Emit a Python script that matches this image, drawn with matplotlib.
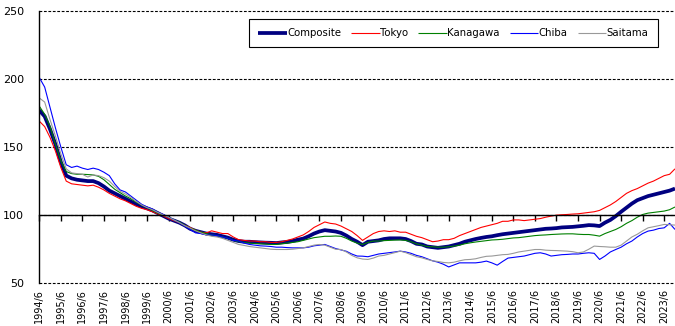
import numpy as np
import matplotlib
matplotlib.use("Agg")
import matplotlib.pyplot as plt

# Quarterly readings from 1994/6 (month index step 3)
composite = [
    177, 172.5, 163, 152,
    139, 129, 127, 126,
    125.5, 125, 125, 123.5,
    121, 118, 116, 114,
    112, 110, 108, 106.5,
    105, 103.5, 101.5, 99.5,
    97.5, 96, 94.5, 92.5,
    90, 88.5, 87.5, 86.5,
    86, 85.5, 84.5, 83.5,
    82, 81, 80.5, 80.5,
    80.2, 80, 79.8, 79.7,
    79.5, 80, 80.3, 81,
    82, 82.8, 84.5, 86.5,
    88, 89, 88.5, 88,
    87, 85, 82.5, 80.5,
    78, 80.5, 81, 81.5,
    82.5, 83, 83, 83,
    82.5, 81, 79, 78.5,
    77, 76.5, 76, 76.5,
    77, 78, 79, 80.5,
    81.5, 82.5, 83.3, 84,
    84.5, 85.3, 86, 86.5,
    87, 87.5, 88, 88.5,
    89, 89.5, 90, 90.2,
    90.5, 91, 91.2, 91.4,
    91.8, 92.2, 92.7, 92.5,
    92, 94.5, 96.5, 99.3,
    102.5, 105.5, 108.5, 111,
    112.5, 114, 115, 116,
    117, 118, 119.5,
]
tokyo = [
    169, 165, 157, 147,
    135, 125, 123, 122.5,
    122, 121.5, 122, 120.5,
    118.5, 116, 114, 112,
    110.5, 108.5, 106.5, 105,
    104, 102.5, 101, 99.5,
    97.5, 96, 94.5, 92.5,
    91, 89, 87.5, 87,
    88.5, 87.5, 86.5, 86.5,
    84, 82, 81.5, 81,
    81, 80.5, 80.5, 80,
    80, 80.5, 81.5, 82.5,
    84, 85.5, 88, 91,
    93, 95, 94, 93.5,
    92, 90, 88, 85,
    81.5, 84, 86.5, 88,
    88.5, 88, 88.5, 87.5,
    87.5, 86, 84.5, 83.5,
    82, 80.5, 81, 82,
    82, 83, 85, 86.5,
    88, 89.5, 91, 92,
    93, 94, 95.5, 95.5,
    96.5, 96.5, 96, 96.5,
    97, 97.5, 98.5, 99.3,
    100, 100.3, 100.5, 100.8,
    101, 101.5, 102, 102.5,
    103.5, 105.5, 107.5, 110,
    113, 116, 118, 119.5,
    121.5, 123.5, 125, 127,
    129, 130, 134,
]
kanagawa = [
    180, 174, 165, 152,
    140, 132, 130.5, 130,
    130, 129.8, 129.5, 128.5,
    126, 122.5, 119, 116.5,
    114, 112, 109.5, 107.5,
    105.5, 103.5, 101.5, 100,
    98.5, 96.5, 95, 92.5,
    90.5, 89, 87.5, 86.5,
    85.5, 85, 84, 83,
    81.5, 80.5, 80, 79.5,
    79.2, 79, 78.8, 78.5,
    78.5, 79, 79.5, 80,
    80.5, 81.5, 82.5, 83.5,
    84, 84.5, 84.5, 84.7,
    84.5, 83, 81, 79.5,
    78.5, 80, 81, 81,
    81.3, 81.5, 81.7, 81.8,
    81.5, 80.5, 79, 78,
    77, 76.8, 76.5, 76.5,
    76.8, 77.3, 78, 79,
    79.7, 80.3, 80.8, 81.3,
    81.8, 82, 82.3, 82.8,
    83.3, 83.5, 84, 84.5,
    85, 85.3, 85.5, 85.8,
    86, 86.2, 86.3, 86.3,
    86, 85.8, 85.8, 85.3,
    84.6, 86.5, 88, 89.5,
    91.5, 94, 96, 98.5,
    100.5, 101.5, 102, 102.5,
    103, 104, 106,
]
chiba = [
    201, 194, 179, 164,
    150, 137, 135, 136,
    134.5, 133.5, 134.5, 133.5,
    131.5, 129, 123, 118.5,
    117, 114, 111, 108,
    106, 104.5, 102, 100.5,
    98.5, 96.5, 94.5, 92,
    89.5, 87, 86.5, 85.5,
    85.5, 85, 84, 83,
    81.5, 81, 79.5, 78.5,
    78, 77.5, 77.3, 77,
    76.5, 76.5, 76.2, 76,
    76, 76, 76.5, 77.5,
    78, 78.5, 77, 75.5,
    74.5, 73.5, 71.5, 70,
    69.9, 69.5, 70.5, 71.5,
    72, 72.5, 73, 73.6,
    73, 72, 70.5, 69.5,
    68, 66.5, 65.5, 64,
    62, 63.5, 65, 65,
    65, 65, 65.5, 66.3,
    65, 63.3, 66, 68.5,
    69, 69.5, 70, 71,
    72, 72.4, 71.5, 70,
    70.5, 71, 71.2, 71.5,
    71.5, 72, 72.4, 72,
    67.5, 70, 73, 74.8,
    76.5, 79, 81, 84,
    86.5, 88.3, 89, 90.2,
    90.7, 94, 89.5,
]
saitama = [
    186, 183, 170, 158,
    145, 134, 131, 130.5,
    130, 128, 129.5, 129,
    127.5, 125, 121, 117.5,
    115.5, 113, 110, 107.5,
    105.5, 104, 102, 100.2,
    98.5, 96.5, 94.5, 92.3,
    90.5, 88.5, 87, 85.5,
    84.5, 84, 83, 81.5,
    80, 78.5, 77.8, 77,
    76.5, 76, 75.5, 75,
    74.8, 74.8, 74.8, 75,
    75.5, 76, 77, 78,
    78.5, 78, 76.5, 75,
    74.8, 73, 70.5, 68.7,
    67.8, 67.5, 68.5, 70,
    70.5, 71.5, 72.5, 73.6,
    72.5, 71, 69.5, 68.7,
    67.5, 66.5, 66, 65.3,
    65, 65.5, 66.5, 67.3,
    67.5, 68, 69, 69.8,
    70, 70.5, 71, 71.2,
    72, 73, 73.6, 74.2,
    74.8, 74.8, 74.3, 74.1,
    74, 73.8, 73.6, 73.2,
    72.4, 73, 75, 77.3,
    77, 76.8, 76.5, 76.5,
    78, 81, 84, 86,
    88.5, 90.7, 91.5, 92.3,
    93.2, 93, 92.7,
]

series_names = ["Composite", "Tokyo", "Kanagawa", "Chiba", "Saitama"]
series_colors = ["#000080", "#FF0000", "#008000", "#0000FF", "#999999"]
series_widths = [2.7, 0.8, 0.8, 0.8, 0.8]
tick_years = list(range(1994, 2024))
tick_labels = [f"{y}/6" for y in tick_years]
y_ticks = [50, 100, 150, 200, 250]

plt.rcParams['font.family'] = ['DejaVu Sans']

fig = plt.figure(figsize=(6.75, 3.26), dpi=100)
ax = fig.add_axes([0.0582, 0.131, 0.9418, 0.836])

x = np.arange(len(composite)) * 3  # months since 1994/6
for vals, name, col, lw in zip([composite, tokyo, kanagawa, chiba, saitama],
                               series_names, series_colors, series_widths):
    ax.plot(x, vals, color=col, lw=lw, label=name, solid_capstyle='butt')

# spine placement first (it resets ticks)
ax.spines['bottom'].set_position(('data', 100))
ax.spines['bottom'].set_linewidth(1.0)
ax.spines['bottom'].set_zorder(3)
ax.spines['left'].set_linewidth(1.0)
ax.spines['top'].set_visible(False)
ax.spines['right'].set_visible(False)

ax.set_xlim(0, 354)
ax.set_ylim(50, 250)
ax.set_yticks(y_ticks)
ax.set_yticklabels([str(v) for v in y_ticks], fontsize=8)
ax.tick_params(axis='y', length=0, pad=11)
ax.yaxis.grid(True, linestyle=(0, (2.5, 1.5)), color='black', lw=0.8)
for gl in ax.get_ygridlines():
    gl.set_clip_on(False)
ax.set_axisbelow(True)

ax.set_xticks([(y - 1994) * 12 for y in tick_years])
ax.set_xticklabels(tick_labels, fontsize=7)
ax.tick_params(axis='x', direction='out', length=4, width=1.0, pad=49,
               labelrotation=90)
for lbl in ax.get_xticklabels():
    lbl.set_va('top')
    lbl.set_ha('center')

leg = ax.legend(ncol=5, loc='upper right', bbox_to_anchor=(0.973, 0.9695),
                frameon=True, fancybox=False, edgecolor='black', framealpha=1,
                fontsize=7.3, handlelength=2.8, handletextpad=0.05,
                columnspacing=1.0, borderpad=0.9, borderaxespad=0)
leg.get_frame().set_linewidth(0.8)

fig.savefig("out.png", dpi=100)
